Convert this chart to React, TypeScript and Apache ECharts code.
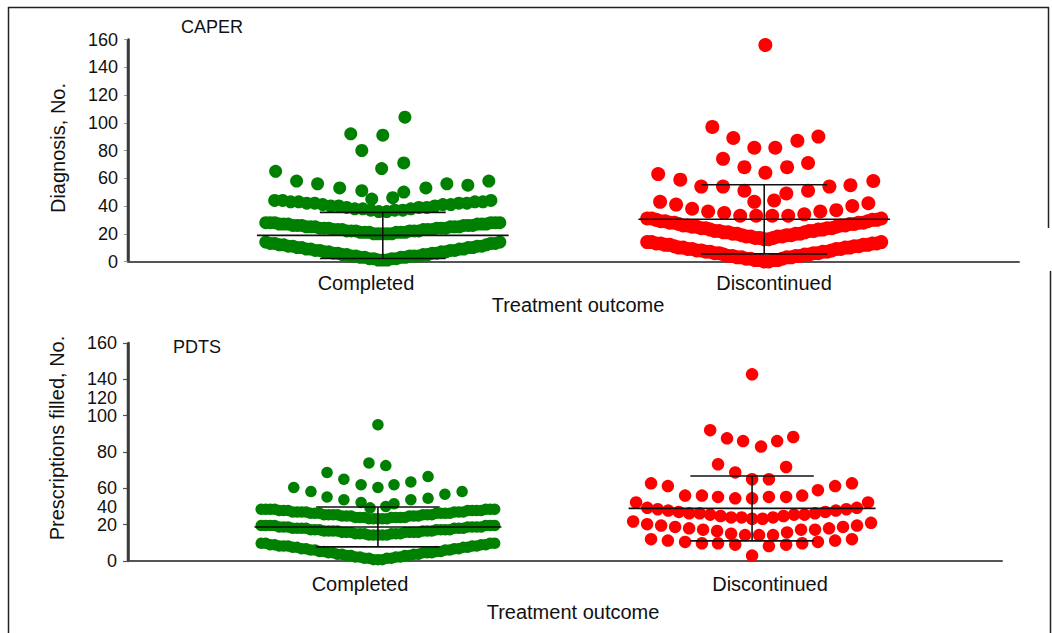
import React, { useEffect, useRef } from "react";
import * as echarts from "echarts";

type Pair = [number, number];

const FONT = '"Liberation Sans", Arial, Helvetica, sans-serif';
const GREEN = "#008000";
const RED = "#ff0000";

// ---------- texts ----------
const categories = ["Completed", "Discontinued"];
const panelTitles = ["CAPER", "PDTS"];
const yTitles = ["Diagnosis, No.", "Prescriptions filled, No."];
const xTitle = "Treatment outcome";

// ---------- axes ----------
const caperInterval = 20;
const pdtsTickValues = [0, 26.667, 53.333, 80, 106.667, 133.333, 160];
const pdtsLabelValues = [0, 26.667, 40, 53.333, 80, 106.667, 120, 133.333, 160];
const pdtsTickLabels = ["0", "20", "40", "60", "80", "100", "120", "140", "160"];

// ---------- CAPER, Completed ----------
const caperCompletedRow1: Pair[] = [[1, 3], [2, 4], [3, 4], [4, 5], [5, 4], [6, 4], [7, 4], [8, 4], [9, 4], [10, 4], [11, 4], [12, 3], [13, 4], [14, 2]];
const caperCompletedRow2: Pair[] = [[20, 5], [21, 6], [22, 6], [23, 6], [24, 6], [25, 6], [26, 6], [27, 6], [28, 6]];
const caperCompletedRow3: Pair[] = [[36, 2], [37, 3], [38, 3], [39, 3], [40, 3], [41, 3], [42, 4], [43, 4], [44, 3]];
const caperCompletedOthers: Pair[] = [
  [-0.281, 65], [-0.226, 58], [-0.171, 56], [-0.113, 53], [-0.055, 51], [-0.029, 45],
  [0.026, 46], [0.055, 50], [0.113, 53], [0.168, 56], [0.223, 55], [0.278, 58],
  [-0.003, 67], [0.055, 71], [-0.055, 80], [-0.084, 92], [0, 91], [0.058, 104],
];

// ---------- CAPER, Discontinued ----------
const caperDiscRow1: Pair[] = [[0, 2], [1, 4], [2, 3], [3, 4], [4, 4], [5, 3], [6, 4], [7, 4], [8, 3], [9, 4], [10, 4], [11, 3], [12, 4], [13, 4], [14, 3]];
const caperDiscRow2: Pair[] = [[16, 2], [17, 3], [18, 4], [19, 3], [20, 4], [21, 3], [22, 4], [23, 3], [24, 4], [25, 3], [26, 4], [27, 3], [28, 4], [29, 3], [30, 3], [31, 3]];
const caperDiscRow3: number[] = [33, 33, 33, 33, 34, 35, 36, 36, 37, 38, 40, 41, 42, 43];
const caperDiscOthers: Pair[] = [
  [0.003, 156], [-0.136, 97], [-0.081, 89], [-0.026, 82], [0.029, 82], [0.087, 87], [0.142, 90],
  [-0.108, 74], [-0.052, 68], [0.003, 64], [0.06, 68], [0.115, 71],
  [-0.278, 63], [-0.22, 59], [-0.165, 54], [-0.108, 54], [-0.052, 51], [0.058, 49],
  [0.115, 51], [0.171, 54], [0.226, 55], [0.286, 58], [-0.026, 43], [0.026, 44],
];

// ---------- PDTS, Completed ----------
const pdtsCompletedRow1: Pair[] = [[1, 3], [2, 4], [3, 4], [4, 4], [5, 4], [6, 5], [7, 4], [8, 4], [9, 4], [10, 4], [11, 5], [12, 4], [13, 4]];
const pdtsCompletedRow2: Pair[] = [[19, 5], [20, 6], [21, 7], [22, 7], [23, 7], [24, 7], [25, 7], [26, 7]];
const pdtsCompletedRow3: Pair[] = [[31, 5], [32, 7], [33, 6], [34, 7], [35, 7], [36, 7], [37, 7], [38, 7]];
const pdtsCompletedOthers: Pair[] = [
  [0, 100], [-0.024, 72], [0.021, 70], [-0.136, 65], [-0.091, 60], [-0.045, 56], [0, 54],
  [0.043, 56], [0.088, 58], [0.134, 62], [-0.225, 54], [-0.179, 51], [-0.136, 47],
  [-0.091, 45], [-0.045, 43], [-0.021, 39], [0.021, 40], [0.043, 42], [0.088, 45],
  [0.134, 46], [0.179, 49], [0.225, 51],
];

// ---------- PDTS, Discontinued ----------
const pdtsDiscRow1: number[] = [31, 31, 32, 32, 32, 33, 33, 34, 34, 34, 35, 35, 35, 36, 36, 37, 37, 38, 38, 39, 39];
const pdtsDiscRow2: number[] = [19, 19, 19, 20, 21, 22, 23, 23, 23, 24, 24, 25, 25, 26, 26, 27, 28, 29];
const pdtsDiscOthers: Pair[] = [
  [0, 137], [-0.112, 96], [-0.067, 90], [-0.024, 88], [0.024, 84], [0.067, 88], [0.11, 91],
  [-0.091, 71], [-0.045, 65], [0.091, 69], [0, 60], [0.045, 60],
  [-0.27, 57], [-0.225, 55], [0.222, 55], [0.267, 57], [0.176, 52],
  [-0.179, 48], [-0.134, 48], [-0.091, 47], [-0.045, 46], [0, 46], [0.045, 47], [0.091, 47], [0.134, 48],
  [-0.31, 43], [0.31, 43], [0, 4],
  [-0.27, 16], [-0.225, 15], [-0.179, 14], [-0.134, 13], [-0.091, 13], [-0.045, 12],
  [0.045, 11], [0.091, 12], [0.134, 13], [0.176, 14], [0.222, 15], [0.267, 16],
];

// ---------- summary (mean ± SD) ----------
const caperMean = [18.8, 30.4];
const caperSD = [16.6, 24.9];
const pdtsMean = [25.0, 38.6];
const pdtsSD = [14.6, 23.8];

// ---------- layout / style ----------
const CAT_POS = [1, 2];
const X_MIN = 0.332;
const X_MAX = 2.668;
const MEAN_HALF = 0.33;
const SD_HALF = 0.165;

const GRID_LEFT = 128;
const GRIDS = [
  { top: 39.5, bottom: 371.5, right: 33 },
  { top: 343, bottom: 72, right: 50 },
];
const H = 633;

const expand = (freq: Pair[]) => freq.flatMap(([v, c]) => Array.from({ length: c }, () => v));

function layoutRow(values: number[], center: number, spacing: number): number[][] {
  const sorted = [...values].sort((a, b) => a - b);
  const n = sorted.length;
  return sorted.map((v, k) => {
    let off: number;
    if (n % 2 === 1) {
      const step = Math.ceil(k / 2);
      off = (k % 2 === 1 ? 1 : -1) * step * spacing;
    } else {
      const step = Math.floor(k / 2) + 0.5;
      off = (k % 2 === 0 ? 1 : -1) * step * spacing;
    }
    return [center + off, v];
  });
}

type Group = {
  grid: number;
  center: number;
  color: string;
  size: number;
  rows: [number[], number][];
  others: Pair[];
};

const groups: Group[] = [
  {
    grid: 0, center: CAT_POS[0], color: GREEN, size: 13,
    rows: [[expand(caperCompletedRow1), 0.0118], [expand(caperCompletedRow2), 0.0118], [expand(caperCompletedRow3), 0.021]],
    others: caperCompletedOthers,
  },
  {
    grid: 0, center: CAT_POS[1], color: RED, size: 14,
    rows: [[expand(caperDiscRow1), 0.0118], [expand(caperDiscRow2), 0.0118], [caperDiscRow3, 0.042]],
    others: caperDiscOthers,
  },
  {
    grid: 1, center: CAT_POS[0], color: GREEN, size: 11.5,
    rows: [[expand(pdtsCompletedRow1), 0.012], [expand(pdtsCompletedRow2), 0.012], [expand(pdtsCompletedRow3), 0.012]],
    others: pdtsCompletedOthers,
  },
  {
    grid: 1, center: CAT_POS[1], color: RED, size: 12.5,
    rows: [[pdtsDiscRow1, 0.028], [pdtsDiscRow2, 0.0374]],
    others: pdtsDiscOthers,
  },
];

function groupPoints(g: Group): number[][] {
  const pts: number[][] = [];
  g.rows.forEach(([vals, sp]) => pts.push(...layoutRow(vals, g.center, sp)));
  g.others.forEach(([dx, v]) => pts.push([g.center + dx, v]));
  return pts;
}

function errorBarSeries(gridIndex: number, means: number[], sds: number[]) {
  return {
    type: "custom",
    xAxisIndex: gridIndex,
    yAxisIndex: gridIndex,
    data: means.map((m, i) => [CAT_POS[i], m, sds[i]]),
    encode: { x: 0, y: 1 },
    z: 10,
    silent: true,
    clip: false,
    renderItem: (_params: any, api: any) => {
      const c = api.value(0);
      const m = api.value(1);
      const sd = api.value(2);
      const pm = api.coord([c, m]);
      const ph = api.coord([c, m + sd]);
      const pl = api.coord([c, m - sd]);
      const wMean = api.size([MEAN_HALF, 0])[0];
      const wBar = api.size([SD_HALF, 0])[0];
      const style = { stroke: "#111", lineWidth: 1.6 };
      return {
        type: "group",
        children: [
          { type: "line", shape: { x1: pm[0] - wMean, y1: pm[1], x2: pm[0] + wMean, y2: pm[1] }, style },
          { type: "line", shape: { x1: ph[0] - wBar, y1: ph[1], x2: ph[0] + wBar, y2: ph[1] }, style },
          { type: "line", shape: { x1: pl[0] - wBar, y1: pl[1], x2: pl[0] + wBar, y2: pl[1] }, style },
          { type: "line", shape: { x1: ph[0], y1: ph[1], x2: pl[0], y2: pl[1] }, style },
        ],
      };
    },
  };
}

function txt(text: string, x: number, y: number, size: number, align = "center", rotation = 0) {
  return {
    type: "text",
    x,
    y,
    rotation,
    silent: true,
    style: {
      text,
      font: `${size}px ${FONT}`,
      fill: "#111",
      textAlign: align,
      align,
      textVerticalAlign: "middle",
      verticalAlign: "middle",
    },
  };
}

function frameLine(x1: number, y1: number, x2: number, y2: number) {
  return { type: "line", silent: true, z: 100, shape: { x1, y1, x2, y2 }, style: { stroke: "#222", lineWidth: 1.5 } };
}

function axisBar(x: number, top: number, bottom: number) {
  return {
    type: "rect",
    silent: true,
    z: 1000,
    shape: { x: x - 1.25, y: top, width: 2.5, height: bottom - top },
    style: { fill: "#3a3a3a" },
  };
}

export default function App() {
  const ref = useRef<HTMLDivElement>(null);

  useEffect(() => {
    if (!ref.current) return;
    const chart = echarts.init(ref.current, undefined, { renderer: "svg" });

    const xAxisBase = {
      type: "value",
      position: "bottom",
      min: X_MIN,
      max: X_MAX,
      axisLine: { show: true, lineStyle: { color: "#555", width: 2 } },
      axisTick: { show: false },
      axisLabel: { show: false },
      splitLine: { show: false },
    };

    const option: any = {
      animation: false,
      backgroundColor: "#ffffff",
      textStyle: { fontFamily: FONT },
      grid: GRIDS.map((g) => ({ left: GRID_LEFT, right: g.right, top: g.top, bottom: g.bottom, containLabel: false })),
      xAxis: [
        { ...xAxisBase, gridIndex: 0 },
        { ...xAxisBase, gridIndex: 1 },
      ],
      yAxis: [
        {
          gridIndex: 0,
          type: "value",
          position: "left",
          min: 0,
          max: 160,
          interval: caperInterval,
          axisLine: { show: true, onZero: false, lineStyle: { color: "#3a3a3a", width: 2.5 } },
          axisTick: { show: true, length: 4, lineStyle: { color: "#999", width: 1 } },
          axisLabel: { fontSize: 18, color: "#111", margin: 10, fontFamily: FONT },
          splitLine: { show: false },
        },
        {
          gridIndex: 1,
          type: "value",
          position: "left",
          min: 0,
          max: 160,
          axisLine: { show: true, onZero: false, lineStyle: { color: "#3a3a3a", width: 2.5 } },
          axisTick: { show: true, length: 5, customValues: pdtsTickValues, lineStyle: { color: "#555", width: 1.2 } },
          axisLabel: {
            fontSize: 18,
            color: "#111",
            margin: 11,
            fontFamily: FONT,
            customValues: pdtsLabelValues,
            formatter: (v: number) => {
              const i = pdtsLabelValues.findIndex((x) => Math.abs(x - v) < 0.01);
              return i >= 0 ? pdtsTickLabels[i] : "";
            },
          },
          splitLine: { show: false },
        },
      ],
      series: [
        ...groups.map((g) => ({
          type: "scatter",
          xAxisIndex: g.grid,
          yAxisIndex: g.grid,
          data: groupPoints(g),
          symbol: "circle",
          symbolSize: g.size,
          itemStyle: { color: g.color, opacity: 1 },
          silent: true,
          z: 2,
        })),
        errorBarSeries(0, caperMean, caperSD),
        errorBarSeries(1, pdtsMean, pdtsSD),
      ],
      graphic: [
        frameLine(8, 7.5, 1049, 7.5),
        frameLine(8.5, 7, 8.5, 633),
        frameLine(1048.5, 7, 1048.5, 228),
        frameLine(1050.5, 271, 1050.5, 633),
        txt(panelTitles[0], 181, 27, 18, "left"),
        txt(panelTitles[1], 173, 347, 18, "left"),
        txt(yTitles[0], 58, 148, 20, "center", Math.PI / 2),
        txt(yTitles[1], 57, 438, 20, "center", Math.PI / 2),
        txt(categories[0], 366, 283, 20),
        txt(categories[1], 774, 283, 20),
        txt(categories[0], 360, 584, 20),
        txt(categories[1], 770, 584, 20),
        txt(xTitle, 578, 305, 20),
        txt(xTitle, 573, 612, 20),
        ...GRIDS.map((g) => axisBar(GRID_LEFT, g.top, H - g.bottom)),
      ],
    };

    chart.setOption(option);
    return () => chart.dispose();
  }, []);

  return (
    <div
      ref={ref}
      style={{ position: "fixed", left: 0, top: 0, width: 1052, height: 633, background: "#fff" }}
    />
  );
}
